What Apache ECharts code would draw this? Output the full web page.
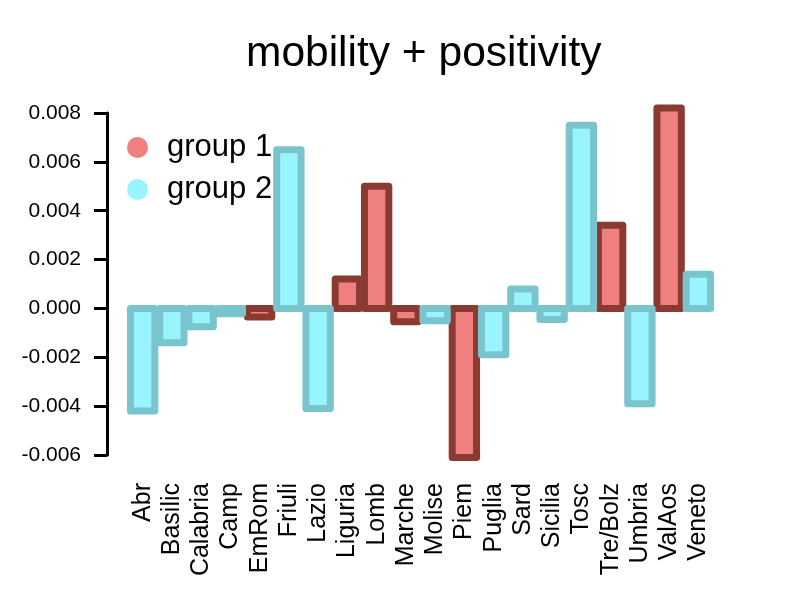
<!DOCTYPE html>
<html>
<head>
<meta charset="utf-8">
<script src="https://cdn.jsdelivr.net/npm/echarts@6/dist/echarts.min.js"></script>
<style>
  html, body { margin: 0; padding: 0; background: #fff; }
  #chart { width: 789px; height: 592px; }
</style>
</head>
<body>
<div id="chart"></div>
<script>
// regions, in plot order
var regions = ['Abr', 'Basilic', 'Calabria', 'Camp', 'EmRom', 'Friuli', 'Lazio', 'Liguria', 'Lomb', 'Marche',
               'Molise', 'Piem', 'Puglia', 'Sard', 'Sicilia', 'Tosc', 'Tre/Bolz', 'Umbria', 'ValAos', 'Veneto']
var values = [-0.0042, -0.0014, -0.00075, -0.00022, -0.00035, 0.0065, -0.0041, 0.0012, 0.005, -0.00055,
              -0.0005, -0.0061, -0.0019, 0.0008, -0.00045, 0.0075, 0.0034, -0.0039, 0.0082, 0.0014]
var groups = [2, 2, 2, 2, 1, 2, 2, 1, 1, 1,
              2, 1, 2, 2, 2, 2, 1, 2, 1, 2]
var yTicks = { min: -0.006, max: 0.008, step: 0.002 }

var font = 'Liberation Sans, Arial, sans-serif'

// [index, value] pairs of one group
function groupData(g) {
    let out = []
    values.forEach(function (v, i) {
        if (groups[i] === g) out.push([i, v])
    })
    return out
}

// barplot style rect: bar is 1/1.2 of the band, border centred on the edge
function barRect(fill, stroke) {
    return function (params, api) {
        let x = api.value(0)
        let p0 = api.coord([x, 0])
        let p1 = api.coord([x, api.value(1)])
        let bw = api.size([1, 0])[0] / 1.2
        return {
            type: 'rect',
            shape: {
                x: p0[0] - bw / 2,
                y: Math.min(p0[1], p1[1]),
                width: bw,
                height: Math.abs(p1[1] - p0[1])
            },
            style: { fill: fill, stroke: stroke, lineWidth: 7, lineJoin: 'round' }
        }
    }
}

var chart = echarts.init(document.getElementById('chart'))

var option = {
    backgroundColor: '#fff',
    animation: false,
    textStyle: { fontFamily: font },
    title: {
        text: 'mobility + positivity',
        left: 246,
        top: 33,
        padding: 0,
        textStyle: { fontFamily: font, fontSize: 42.5, fontWeight: 'normal', color: '#000' }
    },
    legend: {
        orient: 'vertical',
        left: 127,
        top: 132,
        padding: 0,
        itemWidth: 21,
        itemHeight: 21,
        itemGap: 11,
        icon: 'circle',
        itemStyle: { borderWidth: 0 },
        textStyle: { fontFamily: font, fontSize: 31, lineHeight: 30, color: '#000', padding: [0, 0, 0, 14] },
        data: ['group 1', 'group 2']
    },
    grid: { left: 128, right: 76, top: 113, bottom: 137, containLabel: false },
    xAxis: {
        type: 'category',
        data: regions,
        axisLine: { show: false, onZero: false },
        axisTick: { show: false },
        axisLabel: { rotate: 90, margin: 28, fontSize: 25, color: '#000', fontFamily: font, interval: 0 }
    },
    yAxis: {
        type: 'value',
        min: yTicks.min,
        max: yTicks.max,
        interval: yTicks.step,
        offset: 21,
        axisLine: { show: true, lineStyle: { color: '#000', width: 3 } },
        axisTick: { show: true, length: 13, lineStyle: { color: '#000', width: 3 } },
        splitLine: { show: false },
        axisLabel: {
            margin: 26, fontSize: 21, color: '#000', fontFamily: font,
            formatter: function (v) { return Math.abs(v) < 1e-9 ? '0.000' : v.toFixed(3) }
        }
    },
    series: [
        {
            name: 'group 1',
            type: 'custom',
            data: groupData(1),
            itemStyle: { color: '#F08080' },
            renderItem: barRect('#F08080', '#8B3A32')
        },
        {
            name: 'group 2',
            type: 'custom',
            data: groupData(2),
            itemStyle: { color: '#98F5FF' },
            renderItem: barRect('#98F5FF', '#7AC5CD')
        }
    ]
}

chart.setOption(option)
</script>
</body>
</html>
